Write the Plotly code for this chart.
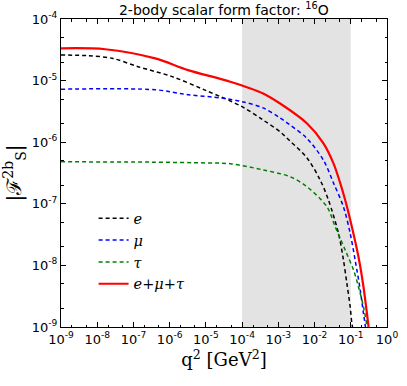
import plotly.graph_objects as go

# values (q^2 in GeV^2, |F_S^2b|)
q2_e = [1.0e-9, 5.6e-9, 2.6e-8, 1.35e-7, 1.17e-6, 9.5e-6, 1.0e-4, 3.8e-4, 1.12e-3, 2.12e-3,
        6.12e-3, 1.43e-2, 2.42e-2, 4.57e-2, 6.28e-2, 7.8e-2, 9.62e-2, 0.107, 0.112]
f_e = [2.6e-5, 2.54e-5, 2.3e-5, 1.68e-5, 1.16e-5, 7.0e-6, 3.77e-6, 2.29e-6, 1.47e-6, 1.04e-6,
       5.6e-7, 2.43e-7, 1.15e-7, 3.32e-8, 1.22e-8, 5.1e-9, 2.14e-9, 1.15e-9, 1.0e-9]

q2_mu = [1.0e-9, 4.0e-7, 3.2e-6, 2.8e-5, 1.0e-4, 3.8e-4, 1.12e-3, 2.12e-3, 6.12e-3, 1.76e-2,
         3.33e-2, 6.28e-2, 9.62e-2, 0.132, 0.182, 0.224, 0.255]
f_mu = [7.25e-6, 7.1e-6, 5.9e-6, 5.2e-6, 4.55e-6, 3.6e-6, 2.47e-6, 1.9e-6, 1.16e-6, 5.1e-7,
        2.18e-7, 8.9e-8, 3.32e-8, 1.22e-8, 4.0e-9, 1.67e-9, 1.0e-9]

q2_tau = [1.0e-9, 2.9e-7, 1.0e-5, 4.7e-5, 3.8e-4, 2.12e-3, 6.12e-3, 2.19e-2, 3.71e-2, 7.0e-2,
          0.119, 0.163, 0.224, 0.282]
f_tau = [4.8e-7, 4.75e-7, 4.6e-7, 4.47e-7, 3.55e-7, 2.75e-7, 1.9e-7, 8.97e-8, 4.25e-8, 1.78e-8,
         8.4e-9, 4.5e-9, 2.14e-9, 1.0e-9]

q2_sum = [1.0e-9, 1.66e-8, 4.0e-7, 3.2e-6, 4.7e-5, 3.8e-4, 1.12e-3, 6.12e-3, 1.76e-2,
          3.33e-2, 5.09e-2, 7.0e-2, 0.107, 0.163, 0.224, 0.31]
f_sum = [3.34e-5, 3.23e-5, 2.29e-5, 1.48e-5, 9.6e-6, 6.2e-6, 4.25e-6, 2.03e-6, 9.6e-7,
         4.54e-7, 2.18e-7, 1.15e-7, 4.25e-8, 1.38e-8, 4.5e-9, 1.0e-9]

band = [1e-4, 1e-1]

xticks = [10.0 ** k for k in range(-9, 1)]
xlabels = ["10<sup>%d</sup>" % k for k in range(-9, 1)]
yticks = [10.0 ** k for k in range(-9, -3)]
ylabels = ["10<sup>%d</sup>" % k for k in range(-9, -3)]

serif = "DejaVu Serif"
dash = "4px,3px"
smooth = 0.9

fig = go.Figure()
fig.add_trace(go.Scatter(name="<i>e</i>", x=q2_e, y=f_e, mode="lines", legendgroup="e",
                         line=dict(color="black", width=1.5, dash=dash, shape="spline", smoothing=smooth)))
fig.add_trace(go.Scatter(name="<i>μ</i>", x=q2_mu, y=f_mu, mode="lines", legendgroup="mu",
                         line=dict(color="blue", width=1.5, dash=dash, shape="spline", smoothing=smooth)))
fig.add_trace(go.Scatter(name="<i>τ</i>", x=q2_tau, y=f_tau, mode="lines", legendgroup="tau",
                         line=dict(color="green", width=1.5, dash=dash, shape="spline", smoothing=smooth)))
fig.add_trace(go.Scatter(name="<i>e</i>+<i>μ</i>+<i>τ</i>", x=q2_sum, y=f_sum, mode="lines",
                         legendgroup="sum",
                         line=dict(color="red", width=2.2, shape="spline", smoothing=smooth)))

fig.add_shape(type="rect", xref="x", yref="paper", x0=band[0], x1=band[1], y0=0, y1=1,
              fillcolor="#e3e3e3", line_width=0, layer="below")

axis_common = dict(type="log", showgrid=False, zeroline=False, showline=True, automargin=False,
                   linecolor="black", linewidth=1, mirror="allticks",
                   ticks="inside", ticklen=5, tickcolor="black", tickmode="array",
                   tickfont=dict(family="DejaVu Sans", size=13, color="black"),
                   minor=dict(ticks="inside", ticklen=2.5, tickcolor="black", showgrid=False))

fig.update_xaxes(range=[-9, 0], tickvals=xticks, ticktext=xlabels,
                 title=dict(text="q<sup>2</sup> [GeV<sup>2</sup>]",
                            font=dict(family=serif, size=18, color="black"), standoff=0),
                 **axis_common)
fig.update_yaxes(range=[-9, -4], tickvals=yticks, ticktext=ylabels,
                 title=dict(text="|ℱ<sup>2b</sup><sub>S</sub>|",
                            font=dict(family=serif, size=20, color="black"), standoff=4),
                 **axis_common)

fig.update_layout(
    width=407, height=386,
    margin=dict(l=61, r=20, t=19, b=59, autoexpand=False),
    plot_bgcolor="white", paper_bgcolor="white",
    title=dict(text="2-body scalar form factor: <sup>16</sup>O", x=0.55, xanchor="center",
               y=0.975, yanchor="middle", font=dict(family="DejaVu Sans", size=14, color="black")),
    legend=dict(x=0.1, y=0.405, xanchor="left", yanchor="top", bgcolor="rgba(0,0,0,0)",
                font=dict(family=serif, size=14.5, color="black"), itemwidth=30,
                tracegroupgap=0),
)

# drop the browser's default page margin so the figure sits at the window origin
fig.write_html("out.html", config={"displayModeBar": False},
               post_script="document.body.style.margin='0';")
